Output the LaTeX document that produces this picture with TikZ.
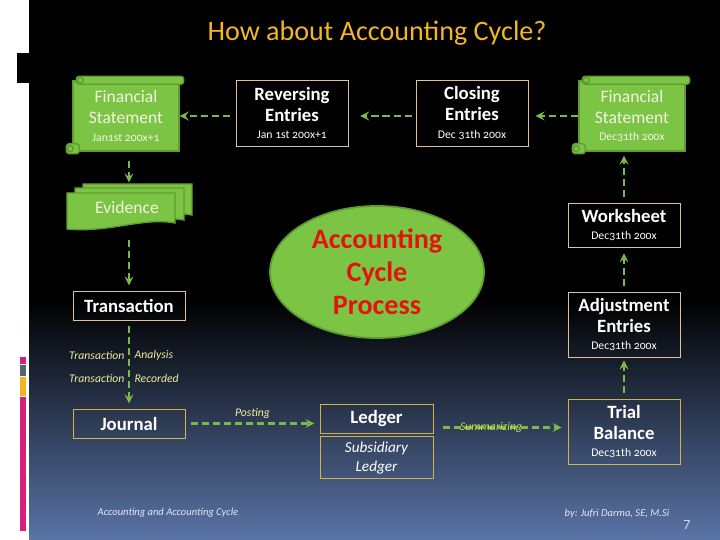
\documentclass[tikz,border=0pt]{standalone}
\usepackage{fontspec}
\setmainfont{Carlito}
\newfontfamily\datefam[Numbers=OldStyle]{Carlito}
\usetikzlibrary{arrows, shapes.geometric, positioning}

\definecolor{titleorange}{HTML}{F2B52A}
\definecolor{boxtan}{HTML}{DCC29A}
\definecolor{boxgold}{HTML}{D4B24A}
\definecolor{leafgreen}{HTML}{7CC443}
\definecolor{leafdark}{HTML}{5E9C32}
\definecolor{arrowgreen}{HTML}{7DB84A}
\definecolor{cyclered}{HTML}{E3130F}
\definecolor{notecol}{HTML}{EEEE9E}
\definecolor{sumcol}{HTML}{C8E050}
\definecolor{leaftext}{HTML}{F4F4E4}
\definecolor{footcol}{HTML}{E2E8F2}
\definecolor{bgblue}{HTML}{5A74A6}
\definecolor{barpink}{HTML}{D81F7A}
\definecolor{bargray}{HTML}{5A6470}
\definecolor{barorange}{HTML}{F5B321}

\newcommand{\datefont}{\datefam\mdseries\fontsize{10}{12}\selectfont}

\begin{document}
\begin{tikzpicture}[x = 0.03cm, y = -0.03cm, % one unit is one pixel, y runs down
                > = stealth, % arrow head style
                semithick % line style
            ]

            \tikzstyle{entry}=[draw = boxtan, line width = 0.8pt, align = center,
            text = white, font = \bfseries\fontsize{16}{18}\selectfont,
            minimum width = 3.36cm, inner sep = 0pt]
            \tikzstyle{book}=[entry, draw = boxgold]
            \tikzstyle{scroll}=[fill = leafgreen, draw = leafdark, line width = 1.2pt,
            align = center, text = leaftext, font = \fontsize{15}{18}\selectfont,
            minimum width = 3.18cm, minimum height = 2.1cm, inner sep = 0pt]
            \tikzstyle{roll}=[fill = leafgreen, draw = leafdark, line width = 1.2pt]
            \tikzstyle{flow}=[->, arrowgreen, line width = 2.3pt,
            dash pattern = on 6pt off 3.4pt]
            \tikzstyle{note}=[text = notecol, font = \itshape\fontsize{10}{12}\selectfont,
            inner sep = 1pt]

            % slide background
            \useasboundingbox (0,0) rectangle (720,540);
            \fill[white] (0,0) rectangle (720,540);
            \fill[black] (29,0) rectangle (720,300);
            \shade[top color = black, bottom color = bgblue] (29,300) rectangle (720,540);
            \fill[black] (17,53) rectangle (29,83);
            \fill[barpink] (20,357) rectangle (26,364);
            \fill[bargray] (20,365) rectangle (26,376);
            \fill[barorange] (20,377) rectangle (26,396);
            \fill[barpink] (20,397) rectangle (26,531);

            \node (title) at (377,33) [text = titleorange,
                font = \fontsize{24}{28}\selectfont] {How about Accounting Cycle?};

            % top row
            \node[scroll] (fsl) at (126,116) {Financial\\Statement\\[-3pt]{\datefont Jan1st 200x+1}};
            \node[entry, minimum height = 1.98cm] (rev) at (292,113)
                {Reversing\\Entries\\[-3pt]{\datefont Jan 1st 200x+1}};
            \node[entry, minimum height = 1.98cm] (clo) at (472,113)
                {Closing\\Entries\\[-3pt]{\datefont Dec 31th 200x}};
            \node[scroll] (fsr) at (632,116) {Financial\\Statement\\[-3pt]{\datefont Dec31th 200x}};

            % paper rolls of the two scrolls
            \foreach \s in {fsl, fsr} {
                \filldraw[roll, rounded corners = 2.5pt] ([shift = {(4,-4)}]\s.north west)
                    rectangle ([shift = {(4,4)}]\s.north east);
                \filldraw[roll] ([shift = {(8,0)}]\s.north west) circle (3);
                \filldraw[roll, rounded corners = 2.5pt] ([shift = {(-6,-8)}]\s.south west)
                    rectangle ([shift = {(7,2)}]\s.south west);
                \filldraw[roll] ([shift = {(-2,-3)}]\s.south west) circle (3);
            }

            % left column
            \foreach \x/\y/\w/\h in {83/184/109/31, 75/188/109/32, 67/193/108/30}
                \filldraw[roll] (\x,\y) -- (\x+\w,\y) -- (\x+\w,\y+\h)
                    .. controls (\x+0.7*\w,\y+\h-6) and (\x+0.4*\w,\y+\h+10) .. (\x,\y+\h+6)
                    -- cycle;
            \node (evi) at (127,207) [minimum width = 3.75cm, minimum height = 1.38cm,
                inner sep = 0pt, text = leaftext, font = \fontsize{15}{18}\selectfont] {Evidence};
            \node[entry, minimum height = 0.87cm] (tra) at (129,305.5) {Transaction};
            \node[book, minimum height = 0.87cm] (jou) at (129,423.5) {Journal};

            \node[note, anchor = east] (ta1) at (126,355) {Transaction};
            \node[note, anchor = west] (ta2) at (133,355) {Analysis};
            \node[note, anchor = east] (tr1) at (126,378) {Transaction};
            \node[note, anchor = west] (tr2) at (133,378) {Recorded};

            % middle
            \node[ellipse, fill = leafgreen, draw = leafdark, line width = 1.5pt,
                minimum width = 6.42cm, minimum height = 3.93cm, align = center,
                text = cyclered, font = \bfseries\fontsize{24}{28}\selectfont] (acp)
                at (377,272) {Accounting\\Cycle\\Process};
            \node[book, minimum width = 3.39cm, minimum height = 0.87cm] (led)
                at (376.5,418.5) {Ledger};
            \node[book, minimum width = 3.39cm, minimum height = 1.26cm,
                font = \itshape\fontsize{13}{16}\selectfont, below = 0.09cm of led] (sub)
                {Subsidiary\\Ledger};

            % right column
            \node[entry, minimum height = 1.32cm] (wor) at (624,225)
                {Worksheet\\[-3pt]{\datefont Dec31th 200x}};
            \node[entry, minimum height = 1.95cm] (adj) at (624,324.5)
                {Adjustment\\Entries\\[-3pt]{\datefont Dec31th 200x}};
            \node[book, minimum height = 1.95cm] (tri) at (624,431.5)
                {Trial\\Balance\\[-3pt]{\datefont Dec31th 200x}};

            % connectors
            \draw[flow, shorten <= 4.3pt] (fsl.east -| rev.west) -- (fsl.east);
            \draw[flow, shorten <= 3.4pt, shorten >= 10pt] (fsl.east -| clo.west) -- (fsl.east -| rev.east);
            \draw[flow, shorten >= 6pt] (fsr.west) -- (fsr.west -| clo.east);
            \draw[flow, shorten <= 7.7pt, shorten >= 1pt] (fsl.south -| tra.north) -- (evi.north -| tra.north);
            \draw[flow, shorten <= 8.5pt, shorten >= 4.3pt] (evi.south -| tra.north) -- (tra.north);
            \draw[flow, shorten <= 5pt, shorten >= 4.3pt] (tra.south) -- (jou.north);
            \draw[flow, shorten <= 5pt, shorten >= 4.3pt] (jou.east) -- (jou.east -| led.west)
                node[midway, above = 2pt, text = notecol, font = \itshape\fontsize{10}{12}\selectfont,
                inner sep = 1pt] (pst) {Posting};
            \coordinate (sumstart) at ([yshift = -0.27cm]led.east);
            \draw[flow, shorten <= 8.5pt, shorten >= 5pt] (sumstart) -- (sumstart -| tri.west)
                node[pos = 0.43, text = sumcol, font = \itshape\fontsize{10}{12}\selectfont,
                inner sep = 1pt] (sum) {Summarizing};
            \draw[flow, shorten <= 4.3pt, shorten >= 2.5pt] (tri.north) -- (adj.south);
            \draw[flow, shorten <= 4.3pt, shorten >= 5pt] (adj.north) -- (wor.south);
            \draw[flow, shorten <= 4.3pt, shorten >= 3.4pt] (wor.north) -- (wor.north |- fsr.south);

            % footer
            \node (foot) at (168,513) [text = footcol, font = \itshape\fontsize{9}{11}\selectfont]
                {Accounting and Accounting Cycle};
            \node (by) at (617,514) [text = footcol, font = \itshape\fontsize{9}{11}\selectfont]
                {by: Jufri Darma, SE, M.Si};
            \node (pg) at (687,525) [text = footcol!85!gray, font = \fontsize{12}{14}\selectfont] {7};
        \end{tikzpicture}
\end{document}
